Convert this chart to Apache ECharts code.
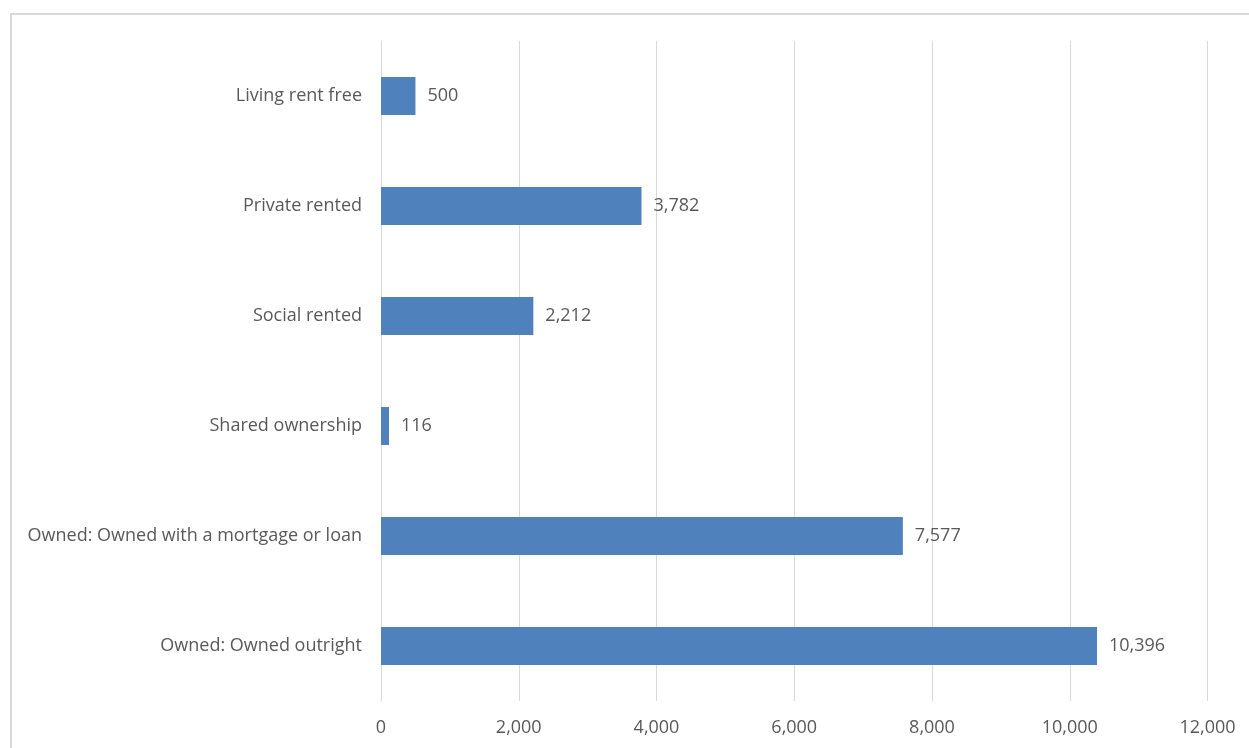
<!DOCTYPE html>
<html>
<head>
<meta charset="utf-8">
<script src="https://cdn.jsdelivr.net/npm/echarts@6/dist/echarts.min.js"></script>
<style>
html,body{margin:0;padding:0;background:#fff;}
#chart{width:1249px;height:748px;}
</style>
</head>
<body>
<div id="chart"></div>
<script>
var categories = [
  "Owned: Owned outright",
  "Owned: Owned with a mortgage or loan",
  "Shared ownership",
  "Social rented",
  "Private rented",
  "Living rent free"
];
var values = [10396, 7577, 116, 2212, 3782, 500];
var xTicks = { min: 0, max: 12000, interval: 2000 };

var chart = echarts.init(document.getElementById('chart'), null, { renderer: 'canvas' });
var font = '"Open Sans", sans-serif';
var fs = 18;
chart.setOption({
  animation: false,
  backgroundColor: '#fff',
  graphic: [{
    type: 'rect',
    shape: { x: 11, y: 14, width: 1400, height: 900 },
    style: { fill: 'none', stroke: '#d9d9d9', lineWidth: 2 },
    silent: true, z: -1
  }],
  grid: { left: 381, right: 41.5, top: 41, bottom: 47 },
  xAxis: {
    type: 'value',
    min: xTicks.min, max: xTicks.max, interval: xTicks.interval,
    axisLine: { show: false },
    axisTick: { show: false },
    splitLine: { show: true, lineStyle: { color: '#d9d9d9', width: 1 } },
    axisLabel: {
      color: '#595959', fontSize: fs, fontFamily: font, margin: 18,
      formatter: function (v) { return v.toLocaleString('en-US'); }
    }
  },
  yAxis: {
    type: 'category',
    data: categories,
    axisLine: { show: true, lineStyle: { color: '#d9d9d9', width: 1 } },
    axisTick: { show: false },
    axisLabel: { color: '#595959', fontSize: fs, fontFamily: font, margin: 19, padding: [2, 0, 0, 0] }
  },
  series: [{
    type: 'bar',
    data: values,
    barWidth: 38,
    itemStyle: { color: '#4f81bd' },
    label: {
      show: true, position: 'right', distance: 12,
      color: '#595959', fontSize: fs, fontFamily: font, padding: [2, 0, 0, 0],
      formatter: function (p) { return p.value.toLocaleString('en-US'); }
    }
  }]
});
</script>
</body>
</html>
